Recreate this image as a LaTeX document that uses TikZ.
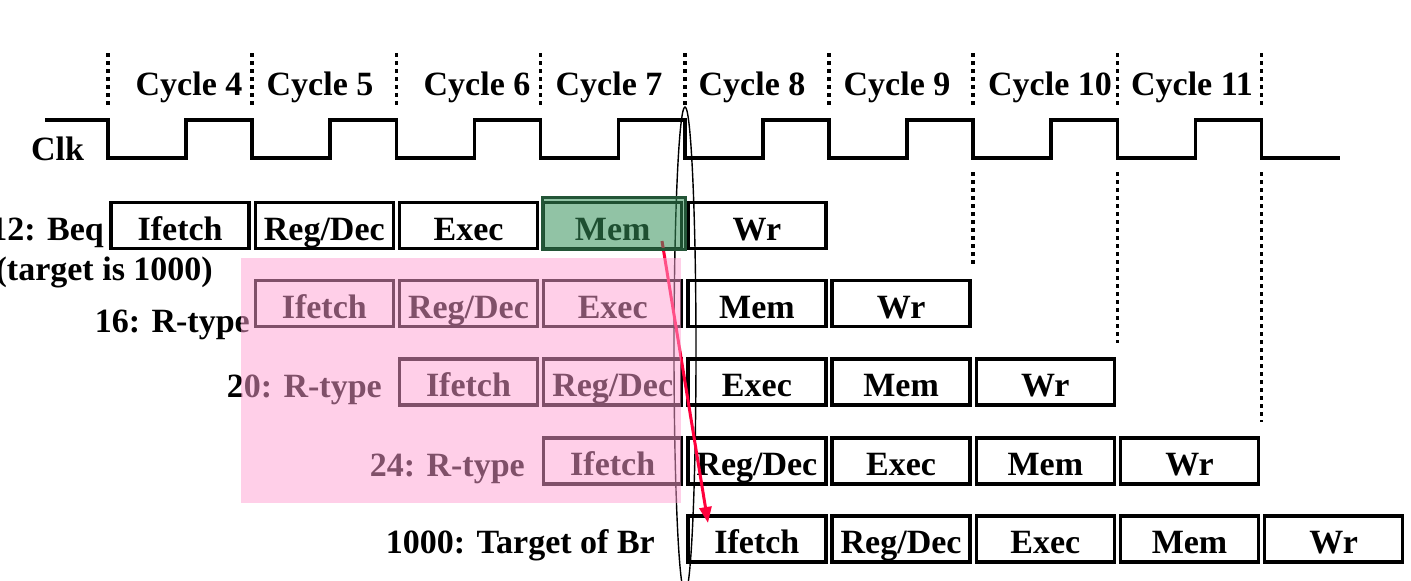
\documentclass[tikz,border=0pt]{standalone}
\usepackage{fontspec}
\setmainfont{Liberation Serif}
\usetikzlibrary{arrows.meta}
\definecolor{pinkov}{RGB}{255,160,210}
\definecolor{greenov}{RGB}{55,145,91}
\definecolor{darkgreenb}{RGB}{35,85,55}
\definecolor{arrowred}{RGB}{255,0,60}
\begin{document}
\begin{tikzpicture}[x=1pt,y=-1pt,
  every node/.style={font=\bfseries\fontsize{34}{40}\selectfont, inner sep=0pt},
  stagebox/.style={draw, line width=3.5pt, minimum width=138pt, minimum height=46pt, text height=29pt, text depth=0pt},
  rowlabel/.style={anchor=base east},
  cyclelabel/.style={anchor=base},
  dotline/.style={line width=3.5pt, dash pattern=on 4pt off 4pt},
  clkline/.style={line width=3.5pt, line join=miter}]
\useasboundingbox (0,0) rectangle (1411,581);
% cycle labels
\foreach \c/\x in {4/189,5/320,6/477,7/609,8/752,9/897,10/1050,11/1192}
  \node[cyclelabel] (cyc\c) at (\x,95) {Cycle \c};
% dotted separators
\foreach \k in {0,...,8}
  \draw[dotline] ({108+144.2*\k},53) -- ({108+144.2*\k},108);
\draw[dotline] (973.2,172) -- (973.2,265);
\draw[dotline] (1117.4,172) -- (1117.4,343);
\draw[dotline] (1261.6,172) -- (1261.6,422);
% clock
\node[anchor=base west] (clk) at (31,160) {Clk};
\draw[clkline] (45,120) -| (108,158) -| (186,120) -| (252.2,158) -| (330.2,120) -| (396.4,158) -| (474.4,120) -| (540.6,158) -| (618.6,120) -| (684.8,158) -| (762.8,120) -| (829,158) -| (907,120) -| (973.2,158) -| (1051.2,120) -| (1117.4,158) -| (1195.4,120) -| (1261.6,158) -- (1340,158);
% stage boxes
\foreach \r/\y in {1/225.5,2/303.5,3/382,4/461,5/539} {
  \foreach \s [count=\j from 0] in {Ifetch,Reg/Dec,Exec,Mem,Wr} {
    \pgfmathsetmacro{\xx}{108+144.2*(\r-1+\j)+72.1}
    \node[stagebox] (r\r s\j) at (\xx,\y) {\s};
  }
}
% row labels
\node[rowlabel] (l1) at (104,240) {12: Beq};
\node[rowlabel] (l1b) at (213,280) {(target is 1000)};
\node[rowlabel] (l2) at (250,332) {16: R-type};
\node[rowlabel] (l3) at (382,397) {20: R-type};
\node[rowlabel] (l4) at (525,476) {24: R-type};
\node[rowlabel] (l5) at (655,553) {1000: Target of Br};
% ellipse
\draw[line width=1.4pt] (685,350) ellipse [x radius=11pt, y radius=243pt];
% branch arrow
\coordinate (as) at (662,241);
\coordinate (ae) at (708,523);
\draw[arrowred, line width=3pt, -{Triangle[length=16pt,width=12pt]}] (as) -- (ae);
% overlays
\fill[pinkov, opacity=0.5] (241,258) rectangle (681,503);
\fill[greenov, opacity=0.55] (541,196) rectangle (687,250);
\draw[darkgreenb, line width=3pt] (542.5,197.5) rectangle (685.5,249);
\end{tikzpicture}
\end{document}
